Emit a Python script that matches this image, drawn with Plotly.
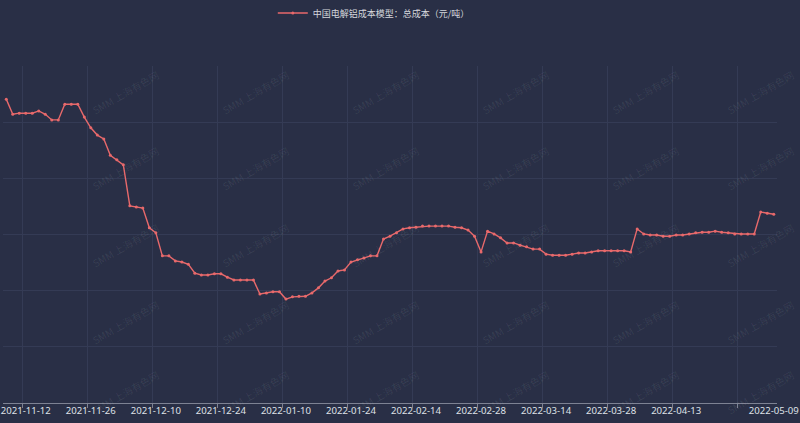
import plotly.graph_objects as go

dates = [
    "2021-11-09", "2021-11-10", "2021-11-11", "2021-11-12",
    "2021-11-15", "2021-11-16", "2021-11-17", "2021-11-18", "2021-11-19",
    "2021-11-22", "2021-11-23", "2021-11-24", "2021-11-25", "2021-11-26",
    "2021-11-29", "2021-11-30", "2021-12-01", "2021-12-02", "2021-12-03",
    "2021-12-06", "2021-12-07", "2021-12-08", "2021-12-09", "2021-12-10",
    "2021-12-13", "2021-12-14", "2021-12-15", "2021-12-16", "2021-12-17",
    "2021-12-20", "2021-12-21", "2021-12-22", "2021-12-23", "2021-12-24",
    "2021-12-27", "2021-12-28", "2021-12-29", "2021-12-30", "2021-12-31",
    "2022-01-04", "2022-01-05", "2022-01-06", "2022-01-07",
    "2022-01-10", "2022-01-11", "2022-01-12", "2022-01-13", "2022-01-14",
    "2022-01-17", "2022-01-18", "2022-01-19", "2022-01-20", "2022-01-21",
    "2022-01-24", "2022-01-25", "2022-01-26", "2022-01-27", "2022-01-28",
    "2022-02-07", "2022-02-08", "2022-02-09", "2022-02-10", "2022-02-11",
    "2022-02-14", "2022-02-15", "2022-02-16", "2022-02-17", "2022-02-18",
    "2022-02-21", "2022-02-22", "2022-02-23", "2022-02-24", "2022-02-25",
    "2022-02-28", "2022-03-01", "2022-03-02", "2022-03-03", "2022-03-04",
    "2022-03-07", "2022-03-08", "2022-03-09", "2022-03-10", "2022-03-11",
    "2022-03-14", "2022-03-15", "2022-03-16", "2022-03-17", "2022-03-18",
    "2022-03-21", "2022-03-22", "2022-03-23", "2022-03-24", "2022-03-25",
    "2022-03-28", "2022-03-29", "2022-03-30", "2022-03-31", "2022-04-01",
    "2022-04-06", "2022-04-07", "2022-04-08",
    "2022-04-11", "2022-04-12", "2022-04-13", "2022-04-14", "2022-04-15",
    "2022-04-18", "2022-04-19", "2022-04-20", "2022-04-21", "2022-04-22",
    "2022-04-25", "2022-04-26", "2022-04-27", "2022-04-28", "2022-04-29",
    "2022-05-05", "2022-05-06", "2022-05-09",
]

total_cost = [
    20410, 20140, 20160, 20160, 20160, 20200, 20140, 20040, 20040, 20320,
    20320, 20320, 20090, 19900, 19770, 19700, 19410, 19330, 19240, 18510,
    18490, 18470, 18120, 18030, 17620, 17620, 17530, 17510, 17470, 17310,
    17280, 17280, 17300, 17300, 17240, 17190, 17190, 17190, 17190, 16940,
    16960, 16980, 16980, 16850, 16890, 16900, 16900, 16960, 17050, 17170,
    17230, 17350, 17370, 17510, 17550, 17580, 17620, 17620, 17920, 17970,
    18030, 18100, 18120, 18130, 18150, 18150, 18150, 18150, 18150, 18130,
    18120, 18080, 17970, 17690, 18060, 18010, 17940, 17850, 17850, 17810,
    17780, 17740, 17740, 17650, 17630, 17630, 17630, 17650, 17670, 17670,
    17690, 17710, 17710, 17710, 17710, 17710, 17690, 18100, 18010, 17990,
    17990, 17970, 17970, 17990, 17990, 18010, 18030, 18040, 18040, 18060,
    18040, 18030, 18010, 18010, 18010, 18010, 18400, 18380, 18360,
]

series_name = "中国电解铝成本模型：总成本（元/吨）"
label_dates = [
    "2021-11-12", "2021-11-26", "2021-12-10", "2021-12-24", "2022-01-10",
    "2022-01-24", "2022-02-14", "2022-02-28", "2022-03-14", "2022-03-28",
    "2022-04-13", "2022-05-09",
]
split_dates = [
    "2021-11-12", "2021-11-26", "2021-12-10", "2021-12-24", "2022-01-10",
    "2022-01-24", "2022-02-14", "2022-02-28", "2022-03-14", "2022-03-28",
    "2022-04-13", "2022-04-27",
]
watermark = "SMM 上海有色网"

idx = list(range(len(dates)))
label_idx = [dates.index(d) for d in label_dates]
split_idx = [dates.index(d) - 0.5 for d in split_dates]

W, H = 800, 423
ML, MR, MT, MB = 3, 23, 66, 20
PW, PH = W - ML - MR, H - MT - MB

BG = "#292f46"
LINE = "#e8696b"
GRID = "#343b55"
AXIS = "#7d8293"

fig = go.Figure()
fig.add_trace(go.Scatter(
    x=idx, y=total_cost, mode="lines+markers", name=series_name,
    line=dict(color=LINE, width=1.4),
    marker=dict(color=LINE, size=3),
    xaxis="x", yaxis="y",
))
fig.add_trace(go.Scatter(
    x=[None], y=[None], mode="lines", showlegend=False, hoverinfo="skip",
    xaxis="x2", yaxis="y",
))

wm_x = [125, 255, 385, 515, 645, 760]
wm_y = [92, 168, 245, 322, 392]
annotations = []
for yy in wm_y:
    for xx in wm_x:
        annotations.append(dict(
            text=watermark, x=(xx - ML) / PW, y=(H - MB - yy) / PH,
            xref="paper", yref="paper",
            xanchor="center", yanchor="middle", showarrow=False, textangle=-30,
            font=dict(size=10, color="rgba(255,255,255,0.08)",
                      family="Noto Sans CJK SC"),
        ))

fig.update_layout(
    width=W, height=H,
    paper_bgcolor=BG, plot_bgcolor=BG,
    margin=dict(l=ML, r=MR, t=MT, b=MB, pad=0, autoexpand=False),
    showlegend=True,
    legend=dict(orientation="h", xref="container", yref="container",
                x=0.341, xanchor="left", y=1 - 13 / H, yanchor="middle",
                font=dict(size=9, color="#d5d7dc", family="Noto Sans CJK SC"),
                bgcolor="rgba(0,0,0,0)"),
    xaxis=dict(
        range=[-0.5, len(dates) - 0.5], tickmode="array", tickvals=label_idx,
        ticktext=label_dates, ticks="", showgrid=False, zeroline=False,
        showline=True, linecolor=AXIS, linewidth=1,
        tickfont=dict(size=9.6, color="#dfe1e6", family="Noto Sans"),
        automargin=False, ticklabeloverflow="allow", ticklabelstandoff=-2,
    ),
    xaxis2=dict(
        range=[-0.5, len(dates) - 0.5], overlaying="x", anchor="y", side="bottom",
        tickmode="array", tickvals=split_idx, ticks="outside", ticklen=4,
        tickcolor=AXIS, showticklabels=False, showgrid=True,
        gridcolor=GRID, gridwidth=1, zeroline=False, showline=False,
        automargin=False,
    ),
    yaxis=dict(
        range=[15000, 21000], dtick=1000, showticklabels=False, showgrid=True,
        gridcolor=GRID, gridwidth=1, zeroline=False, ticks="", automargin=False,
    ),
    annotations=annotations,
    font=dict(family="Noto Sans CJK SC"),
)

fig.write_html("out.html", config={"displayModeBar": False},
               post_script="document.body.style.margin='0';")
